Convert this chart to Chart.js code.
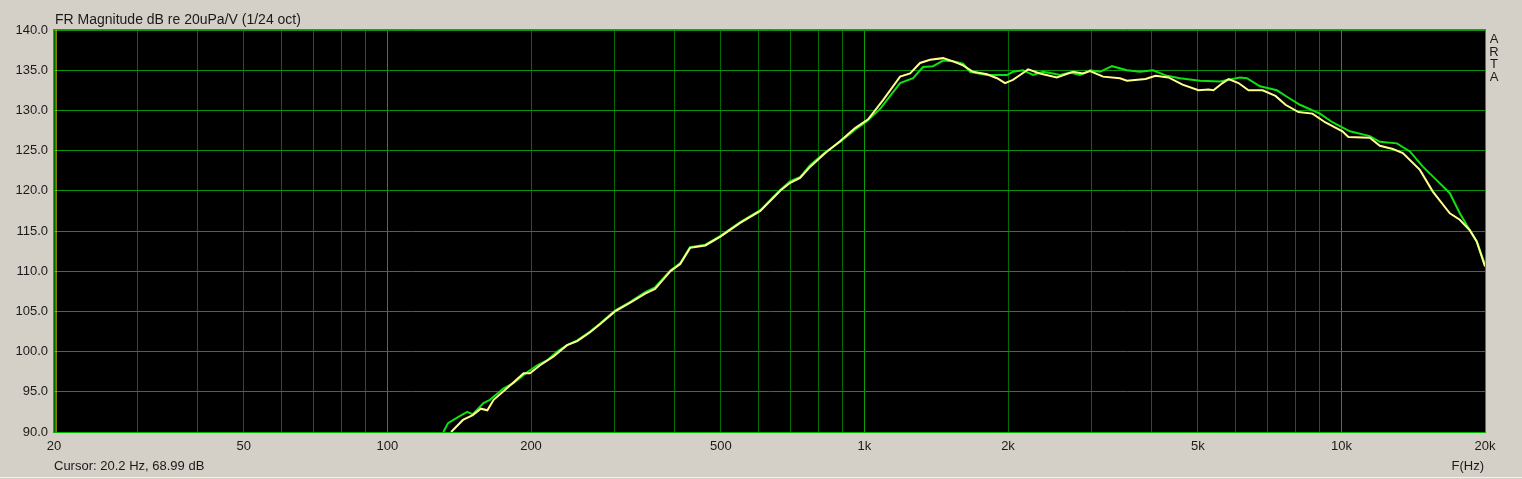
<!DOCTYPE html>
<html>
<head>
<meta charset="utf-8">
<script src="https://cdn.jsdelivr.net/npm/chart.js@4.4.1/dist/chart.umd.min.js"></script>
<style>
  html, body { margin: 0; padding: 0; background: #d4d0c8; overflow: hidden; }
  canvas { display: block; }
</style>
</head>
<body>
<canvas id="fr" width="1522" height="479"></canvas>
<script>
// FR magnitude, 1/24 oct smoothing
const greenFreq = [131, 134, 140, 147, 151, 159, 164, 175, 184, 196, 206, 216, 227, 238, 250,
  266, 279, 300, 323, 347, 364, 392, 411, 431, 464, 499, 549, 605, 666, 699, 733, 770, 828, 890, 956,
  1009, 1079, 1188, 1265, 1327, 1393, 1462, 1534, 1610, 1665, 1807, 1991, 2048, 2150, 2257, 2368,
  2486, 2570, 2698, 2832, 2972, 3119, 3304, 3551, 3782, 4028, 4308, 4587, 5053, 5564, 6128, 6336,
  6749, 7324, 7686, 8184, 9014, 9596, 10416, 11472, 12038, 13070, 13916, 14816, 15850, 16876,
  17710, 18584, 19216, 20000];
const greenDb = [90.0, 91.1, 91.8, 92.5, 92.2, 93.6, 94.0, 95.4, 96.1, 97.4, 98.3, 98.9, 100.0, 100.8, 101.4,
  102.5, 103.5, 105.1, 106.2, 107.4, 108.0, 110.1, 111.0, 113.0, 113.3, 114.4, 116.1, 117.6, 120.1, 121.2, 121.7, 123.2, 124.8, 126.1, 127.6,
  128.6, 130.2, 133.4, 134.0, 135.4, 135.5, 136.2, 136.1, 135.8, 134.8, 134.4, 134.4, 134.8, 135.0, 134.4, 134.8,
  134.6, 134.4, 134.7, 134.4, 135.0, 134.8, 135.5, 135.0, 134.8, 135.0, 134.3, 134.0, 133.7, 133.6, 134.1, 134.0,
  133.0, 132.5, 131.7, 130.7, 129.6, 128.5, 127.4, 126.8, 126.1, 125.9, 124.9, 123.0, 121.3, 119.7,
  117.2, 115.1, 113.7, 110.8];

const yellowFreq = [136, 144, 151, 157, 162, 167, 181, 193, 199, 209, 223, 238, 250,
  266, 279, 300, 323, 347, 364, 392, 411, 431, 464, 499, 549, 605, 666, 699, 733, 770, 828, 890, 956,
  1018, 1095, 1188, 1247, 1308, 1373, 1462, 1534, 1610, 1689, 1807, 1897, 1972, 2048, 2120, 2204,
  2334, 2532, 2737, 2874, 2972, 3164, 3434, 3551, 3885, 4076, 4340, 4644, 5016, 5264, 5393, 5634,
  5800, 6085, 6386, 6835, 7275, 7635, 8128, 8694, 9260, 10050, 10344, 11472, 12038, 12820, 13452,
  14606, 15548, 16876, 17710, 18584, 19216, 20000];
const yellowDb = [90.0, 91.5, 92.1, 92.9, 92.7, 94.0, 95.8, 97.3, 97.3, 98.3, 99.4, 100.8, 101.3,
  102.4, 103.4, 105.0, 106.1, 107.2, 107.8, 110.0, 110.9, 112.9, 113.2, 114.3, 116.0, 117.5, 120.0, 121.0, 121.6, 123.0, 124.7, 126.2, 127.8,
  128.9, 131.3, 134.2, 134.6, 135.9, 136.3, 136.5, 136.1, 135.6, 134.8, 134.5, 134.0, 133.4, 133.8, 134.4, 135.1,
  134.6, 134.1, 134.8, 134.6, 134.9, 134.2, 134.0, 133.7, 133.9, 134.3, 134.1, 133.2, 132.5, 132.6, 132.5, 133.4,
  133.9, 133.4, 132.5, 132.5, 131.8, 130.7, 129.8, 129.6, 128.5, 127.4, 126.7, 126.6, 125.6, 125.2, 124.7,
  122.6, 119.9, 117.2, 116.4, 115.1, 113.7, 110.6];

// cursor position (Hz)
const cursorFreq = 20.2;

const gridFreqs = [20, 30, 40, 50, 60, 70, 80, 90, 100, 200, 300, 400, 500, 600, 700, 800, 900,
  1000, 2000, 3000, 4000, 5000, 6000, 7000, 8000, 9000, 10000, 20000];
const majorFreqs = [100, 1000, 10000];
const xLabels = { 20: '20', 50: '50', 100: '100', 200: '200', 500: '500', 1000: '1k',
  2000: '2k', 5000: '5k', 10000: '10k', 20000: '20k' };

const pts = (xs, ys) => xs.map((x, i) => ({ x: x, y: ys[i] }));

const frame = {
  id: 'frame',
  beforeDraw(chart) {
    const c = chart.ctx, a = chart.chartArea;
    c.save();
    c.fillStyle = '#d4d0c8';
    c.fillRect(0, 0, chart.width, chart.height);
    c.fillStyle = '#000';
    c.fillRect(a.left, a.top, a.right - a.left, a.bottom - a.top);
    c.restore();
  },
  afterDraw(chart) {
    const c = chart.ctx, a = chart.chartArea;
    c.save();
    c.strokeStyle = '#00b400';
    c.lineWidth = 1;
    c.strokeRect(a.left - 0.5, a.top - 0.5, a.right - a.left + 1, a.bottom - a.top + 1);
    c.fillStyle = '#1a1a1a';
    c.font = '14px "Liberation Sans", Arial, sans-serif';
    c.textBaseline = 'alphabetic';
    c.textAlign = 'left';
    c.fillText('FR Magnitude dB re 20uPa/V (1/24 oct)', a.left + 1, 24);
    c.font = '13px "Liberation Sans", Arial, sans-serif';
    c.fillText('Cursor: 20.2 Hz, 68.99 dB', a.left, 470);
    c.textAlign = 'right';
    c.fillText('F(Hz)', a.right - 1, 470);
    c.textAlign = 'center';
    c.font = '13px "Liberation Sans", Arial, sans-serif';
    ['A', 'R', 'T', 'A'].forEach((ch, i) => c.fillText(ch, 1494, 43 + i * 12.5));
    c.strokeStyle = '#f4f2ee';
    c.beginPath();
    c.moveTo(0, 477.5);
    c.lineTo(chart.width, 477.5);
    c.stroke();
    c.restore();
  }
};

new Chart(document.getElementById('fr'), {
  type: 'line',
  data: {
    datasets: [
      {
        label: 'yellow',
        data: pts(yellowFreq, yellowDb),
        borderColor: '#ffff8c',
        borderWidth: 2,
        pointRadius: 0,
        tension: 0,
        fill: false
      },
      {
        label: 'green',
        data: pts(greenFreq, greenDb),
        borderColor: '#10e010',
        borderWidth: 2,
        pointRadius: 0,
        tension: 0,
        fill: false
      },
      {
        label: 'cursor',
        data: [{ x: cursorFreq, y: 90 }, { x: cursorFreq, y: 140 }],
        borderColor: '#f0e000',
        borderWidth: 1,
        pointRadius: 0,
        fill: false
      }
    ]
  },
  options: {
    responsive: false,
    animation: false,
    layout: { padding: { top: 30, right: 37, left: 0, bottom: 0 } },
    plugins: {
      legend: { display: false },
      title: { display: false },
      tooltip: { enabled: false }
    },
    scales: {
      x: {
        type: 'logarithmic',
        min: 20,
        max: 20000,
        afterBuildTicks: (scale) => { scale.ticks = gridFreqs.map(v => ({ value: v })); },
        afterFit: (scale) => { scale.height = 47; },
        border: { display: false },
        grid: {
          drawTicks: false,
          lineWidth: 1,
          color: (ctx) => (ctx.tick && majorFreqs.includes(ctx.tick.value)) ? '#0aa00a' : '#006c00'
        },
        ticks: {
          autoSkip: false,
          maxRotation: 0,
          padding: 7,
          color: '#1a1a1a',
          font: { family: '"Liberation Sans", Arial, sans-serif', size: 13 },
          callback: (v) => xLabels[v] || ''
        }
      },
      y: {
        min: 90,
        max: 140,
        afterFit: (scale) => { scale.width = 54; },
        border: { display: false },
        grid: { drawTicks: false, color: '#0a940a', lineWidth: 1 },
        ticks: {
          stepSize: 5,
          padding: 6,
          color: '#1a1a1a',
          font: { family: '"Liberation Sans", Arial, sans-serif', size: 13 },
          callback: (v) => v.toFixed(1)
        }
      }
    }
  },
  plugins: [frame]
});
</script>
</body>
</html>
